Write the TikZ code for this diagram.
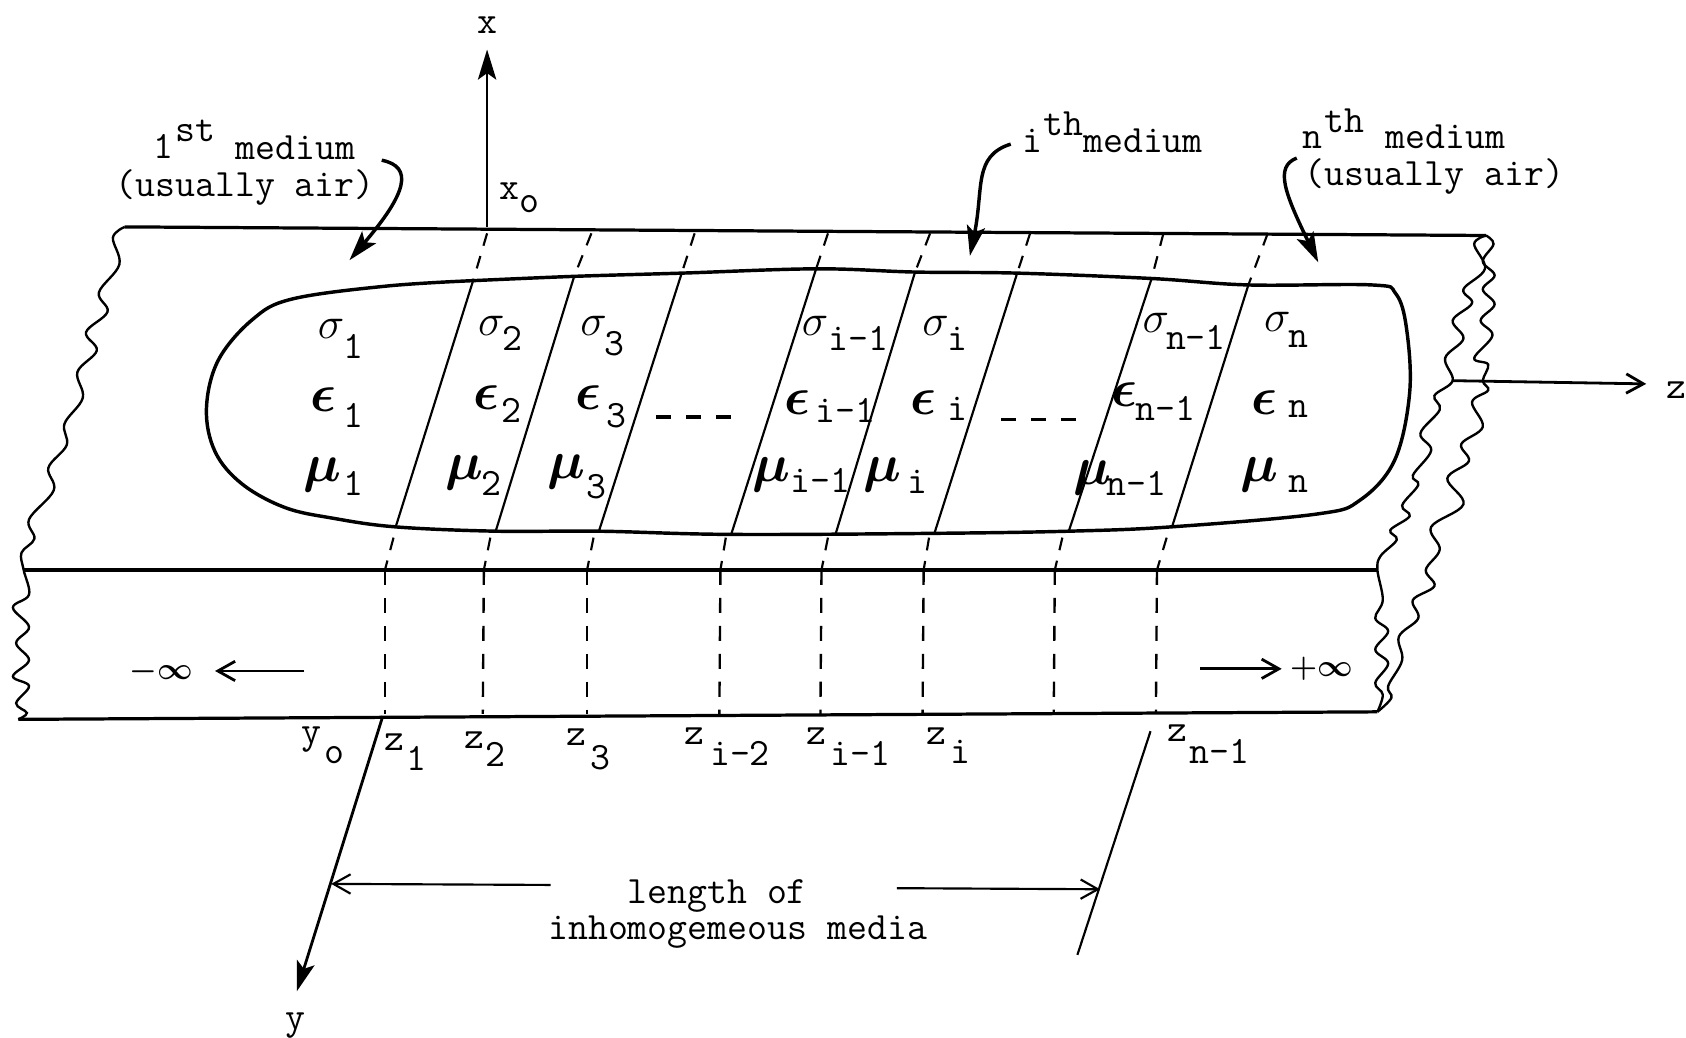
\documentclass[tikz,border=0pt]{standalone}
\usepackage{amsmath}
\usepackage{tikz}
\usetikzlibrary{arrows.meta}

\begin{document}
\begin{tikzpicture}[>=stealth,x=.5pt,y=-.5pt]
  \tikzstyle{lab}=[inner sep=0pt,anchor=center,font=\fontsize{18}{20}\selectfont\ttfamily]
  \tikzstyle{symsig}=[inner sep=0pt,anchor=center,font=\fontsize{22}{24}\selectfont]
  \tikzstyle{symeps}=[inner sep=0pt,anchor=center,font=\fontsize{24}{26}\selectfont\boldmath]
  \tikzstyle{symmu}=[inner sep=0pt,anchor=center,font=\fontsize{23}{25}\selectfont\boldmath]
  \tikzstyle{syminf}=[inner sep=0pt,anchor=center,font=\fontsize{14}{16}\selectfont\boldmath]
  \tikzstyle{edge}=[line width=1.5pt]
  \tikzstyle{wavy}=[line width=1.1pt,smooth,tension=.6]
  \tikzstyle{blob}=[line width=1.6pt]
  \tikzstyle{thin}=[line width=1pt]
  \tikzstyle{axis}=[line width=1.3pt]
  \tikzstyle{cut}=[line width=1.1pt,dash pattern=on 7pt off 6pt]
  \tikzstyle{cutshort}=[line width=1pt,dash pattern=on 6pt off 5pt]
  \tikzstyle{barb}=[-{Straight Barb[length=8pt,width=9pt]}]
  \tikzstyle{solidhead}=[-{Stealth[length=14pt,width=8.5pt,inset=3pt]}]
  \useasboundingbox (0,0) rectangle (1568,965);

  \coordinate (tl) at (116,211);
  \coordinate (tr) at (1382,219);
  \coordinate (ml) at (22,530);
  \coordinate (mr) at (1281,530);
  \coordinate (bl) at (17,669);
  \coordinate (br) at (1281,662);
  \draw[edge] (tl)--(tr);
  \draw[edge] (ml)--(mr);
  \draw[edge] (bl)--(br);

  \draw[wavy] plot coordinates {(116,211) (105,221) (111,246) (92,272) (100,290) (80,309) (90,326)
    (72,346) (77,370) (60,394) (62,414) (45,435) (50,456) (27,483) (32,501) (20,514) (22,530)
    (27,553) (12,565) (27,583) (15,598) (27,614) (12,629) (27,638) (15,654) (25,663) (17,669)};
  \draw[wavy] plot coordinates {(1382,219) (1389,227) (1379,243) (1390,256) (1379,269) (1390,283)
    (1377,298) (1388,312) (1371,333) (1384,339) (1379,354) (1384,363) (1369,374) (1379,397)
    (1359,413) (1366,429) (1346,445) (1361,469) (1331,490) (1339,511) (1326,530) (1334,545)
    (1314,558) (1319,575) (1301,592) (1304,614) (1291,638) (1294,649) (1281,662)};
  \draw[wavy] plot coordinates {(1382,219) (1371,227) (1381,250) (1361,269) (1369,282) (1351,298)
    (1361,315) (1344,333) (1351,354) (1334,368) (1339,381) (1321,403) (1331,419) (1314,442)
    (1319,451) (1304,470) (1311,480) (1293,493) (1299,502) (1284,517) (1281,530) (1286,558)
    (1279,575) (1291,587) (1279,604) (1291,617) (1279,635) (1286,646) (1281,662)};

  \draw[blob] plot[smooth,tension=.6] coordinates {(440,261) (534,257) (634,254) (759,250) (851,253)
    (946,254) (1071,259) (1161,265) (1276,265) (1298,273) (1308,305) (1311,365) (1297,428)
    (1265,465) (1225,478) (1089,490) (994,494) (869,496) (680,497) (557,494) (461,494) (368,490)
    (310,482) (265,472) (225,450) (200,420) (192,380) (203,335) (235,297) (272,278) (360,266) (440,261)};

  \foreach \id/\xa/\xb/\ya/\xc/\yc/\xd/\xe/\xf in {
    1/453/440/261/368/490/366/358/358,
    2/550/534/257/461/494/456/450/449,
    3/646/634/254/557/494/552/546/546,
    4/770/759/250/680/497/675/670/669,
    5/865/851/253/777/497/770/764/763,
    6/958/946/254/869/496/864/859/858,
    7/1082/1071/259/994/494/988/981/980,
    8/1179/1161/265/1090/490/1085/1076/1075} {
    \coordinate (top\id) at (\xa,217);
    \coordinate (in\id) at (\xb,\ya);
    \coordinate (out\id) at (\xc,\yc);
    \coordinate (low\id) at (\xd,500);
    \coordinate (mid\id) at (\xe,530);
    \coordinate (foot\id) at (\xf,664);
    \draw[cutshort] (top\id)--(in\id);
    \draw[thin] (in\id)--(out\id);
    \draw[cutshort] (low\id)--(mid\id);
    \draw[cut] (mid\id)--(foot\id);
  }

  \foreach \id/\st/\symb/\sx/\sy/\tx/\ty/\idx in {
    s1/symsig/\sigma/308/306/319/322/1, s2/symsig/\sigma/457/303/467/315/2, s3/symsig/\sigma/552/303/562/320/3,
    s4/symsig/\sigma/758/303/770/315/i-1, s5/symsig/\sigma/870/303/881/315/i, s6/symsig/\sigma/1075/300/1084/314/n-1,
    s7/symsig/\sigma/1188/299/1198/315/n,
    e1/symeps/\epsilon/301/372/319/386/1, e2/symeps/\epsilon/452/370/466/382/2, e3/symeps/\epsilon/547/370/564/387/3,
    e4/symeps/\epsilon/742/374/758/382/i-1, e5/symeps/\epsilon/859/374/881/380/i, e6/symeps/\epsilon/1046/367/1056/380/n-1,
    e7/symeps/\epsilon/1176/374/1198/380/n,
    m1/symmu/\mu/300/442/319/450/1, m2/symmu/\mu/432/440/447/450/2, m3/symmu/\mu/527/439/545/453/3,
    m4/symmu/\mu/717/442/735/447/i-1, m5/symmu/\mu/821/442/844/448/i, m6/symmu/\mu/1016/444/1029/450/n-1,
    m7/symmu/\mu/1171/442/1198/450/n} {
    \node[\st] (sym\id) at (\sx,\sy) {$\symb$};
    \node[lab,anchor=west] (idx\id) at (\tx,\ty) {\idx};
  }

  \coordinate (dotsa) at (610,388);
  \coordinate (dotsb) at (692,388);
  \coordinate (dotsc) at (931,390);
  \coordinate (dotsd) at (1009,390);
  \draw[blob,dash pattern=on 7pt off 7pt] (dotsa)--(dotsb);
  \draw[blob,dash pattern=on 7pt off 7pt] (dotsc)--(dotsd);

  \foreach \id/\zx/\zy/\tx/\ty/\idx in {
    1/367/690/378/705/1, 2/441/688/451/702/2, 3/536/686/549/705/3, 4/646/685/660/701/i-2,
    5/759/685/772/701/i-1, 6/871/685/884/699/i, 7/1095/682/1106/699/n-1} {
    \node[lab] (z\id) at (\zx,\zy) {z};
    \node[lab,anchor=west] (zi\id) at (\tx,\ty) {\idx};
  }
  \node[lab] (ylab) at (290,688) {y};
  \node[lab] (yo) at (311,702) {o};
  \node[lab] (xlab) at (474,178) {x};
  \node[lab] (xo) at (492,190) {o};

  \coordinate (xorg) at (453,211);
  \coordinate (xtip) at (453,46);
  \coordinate (yorg) at (356,666);
  \coordinate (ytip) at (276,922);
  \coordinate (zorg) at (1350,354);
  \coordinate (ztip) at (1531,357);
  \draw[axis,solidhead] (xorg)--(xtip);
  \draw[axis,solidhead] (yorg)--(ytip);
  \draw[axis,barb] (zorg)--(ztip);
  \node[lab] (xaxis) at (453,23) {x};
  \node[lab] (yaxis) at (275,954) {y};
  \node[lab] (zaxis) at (1559,363) {z};

  \coordinate (lena) at (1070,680);
  \coordinate (lenb) at (1002,888);
  \draw[thin] (lena)--(lenb);
  \node[lab] (lenc) at (667,833) {length of};
  \node[lab] (lend) at (686,867) {inhomogemeous media};
  \coordinate (lene) at (512,823);
  \coordinate (lenf) at (308,822);
  \coordinate (leng) at (834,826);
  \coordinate (lenh) at (1023,827);
  \draw[thin,barb] (lene)--(lenf);
  \draw[thin,barb] (leng)--(lenh);

  \coordinate (infa) at (283,624);
  \coordinate (infb) at (200,624);
  \coordinate (infc) at (1116,622);
  \coordinate (infd) at (1192,622);
  \draw[axis,barb] (infa)--(infb);
  \draw[axis,barb] (infc)--(infd);
  \node[syminf] (minf) at (150,625) {$-\infty$};
  \node[syminf] (pinf) at (1229,622) {$+\infty$};

  \node[lab] (one) at (152,136) {1};
  \node[lab] (onest) at (182,122) {st};
  \node[lab] (onem) at (275,137) {medium};
  \node[lab] (onea) at (228,174) {(usually air)};
  \node[lab] (ii) at (960,131) {i};
  \node[lab] (iith) at (989,115) {th};
  \node[lab] (iim) at (1063,131) {medium};
  \node[lab] (nn) at (1221,130) {n};
  \node[lab] (nnth) at (1250,112) {th};
  \node[lab] (nnm) at (1344,127) {medium};
  \node[lab] (nna) at (1334,164) {(usually air)};

  \draw[blob,solidhead] (355,149) .. controls (385,155) and (378,180) .. (325,242);
  \draw[blob,solidhead] (940,134) .. controls (905,145) and (915,175) .. (902,238);
  \draw[blob,solidhead] (1206,147) .. controls (1185,155) and (1195,180) .. (1226,244);
\end{tikzpicture}
\end{document}
